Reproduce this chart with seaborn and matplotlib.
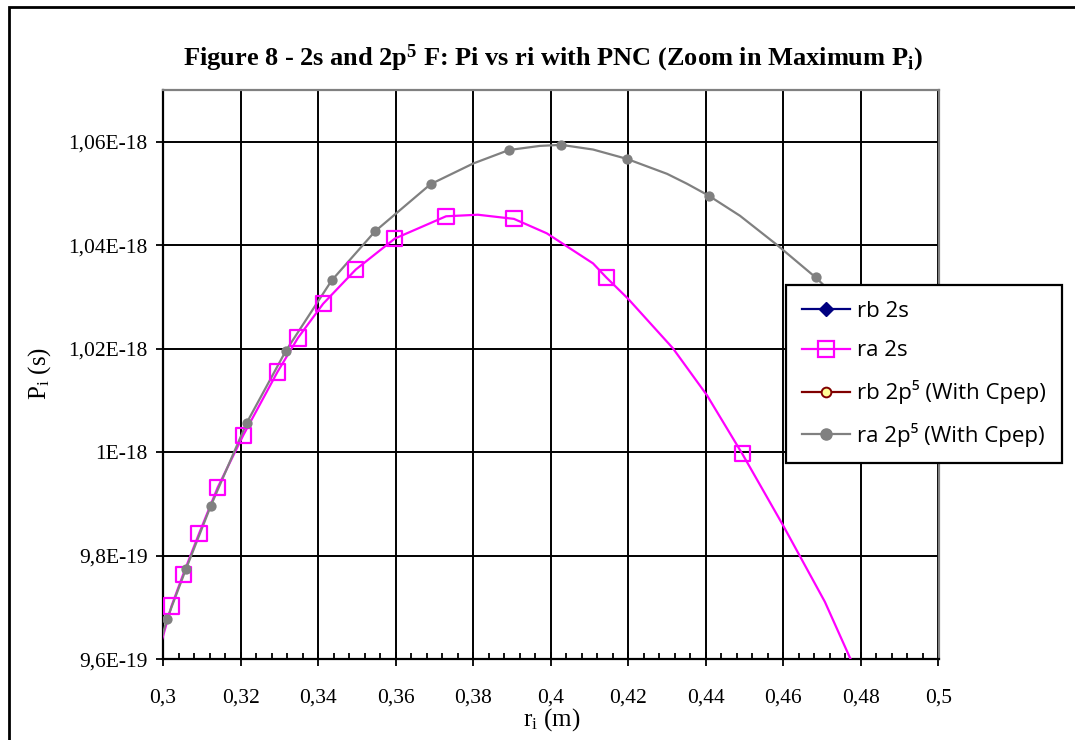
import numpy as np
import matplotlib
matplotlib.use('Agg')
import matplotlib.pyplot as plt
import seaborn as sns
from matplotlib.patches import Rectangle

# ra 2s (magenta squares) - marker points, P in units of 1E-18 s
ra2s_r = [0.3022, 0.3052, 0.3093, 0.3141, 0.3207, 0.3295, 0.3348, 0.3413,
          0.3497, 0.3598, 0.3730, 0.3905, 0.4143, 0.4494]
ra2s_p = [0.9703, 0.9764, 0.9843, 0.9932, 1.0033, 1.0155, 1.0221, 1.0287,
          1.0353, 1.0413, 1.0456, 1.0451, 1.0338, 0.9997]
# ra 2s - the drawn curve (markers plus points)
ra2s_curve_r = [0.2979, 0.3022, 0.3052, 0.3093, 0.3141, 0.3207, 0.3295, 0.3348,
                0.3413, 0.3497, 0.3598, 0.3730, 0.3812, 0.3905, 0.3990, 0.4109,
                0.4143, 0.4199, 0.4315, 0.4403, 0.4494, 0.4599, 0.4707, 0.4780]
ra2s_curve_p = [0.9589, 0.9703, 0.9764, 0.9843, 0.9932, 1.0033, 1.0155, 1.0221,
                1.0287, 1.0353, 1.0413, 1.0456, 1.0459, 1.0451, 1.0423, 1.0365,
                1.0338, 1.0297, 1.0201, 1.0110, 0.9997, 0.9859, 0.9711, 0.9589]

# ra 2p5 (With Cpep) (grey dots)
ra2p5_r = [0.3010, 0.3059, 0.3123, 0.3216, 0.3316, 0.3435, 0.3547, 0.3690,
           0.3892, 0.4027, 0.4196, 0.4407, 0.4683]
ra2p5_p = [0.9677, 0.9774, 0.9896, 1.0057, 1.0195, 1.0332, 1.0427, 1.0518,
           1.0584, 1.0594, 1.0567, 1.0496, 1.0338]
ra2p5_curve_r = [0.2979, 0.3010, 0.3059, 0.3123, 0.3216, 0.3316, 0.3435, 0.3547,
                 0.3690, 0.3800, 0.3892, 0.3972, 0.4027, 0.4109, 0.4196, 0.4300,
                 0.4351, 0.4407, 0.4488, 0.4583, 0.4683, 0.4798, 0.5000]
ra2p5_curve_p = [0.9593, 0.9677, 0.9774, 0.9896, 1.0057, 1.0195, 1.0332, 1.0427,
                 1.0518, 1.0558, 1.0584, 1.0592, 1.0594, 1.0585, 1.0567, 1.0538,
                 1.0519, 1.0496, 1.0457, 1.0401, 1.0338, 1.0255, 1.0071]

# rb series fall outside the zoomed window
rb2s_r, rb2s_p = [], []
rb2p5_r, rb2p5_p = [], []

x_ticks = [0.30, 0.32, 0.34, 0.36, 0.38, 0.40, 0.42, 0.44, 0.46, 0.48, 0.50]
x_tick_labels = ['0,3', '0,32', '0,34', '0,36', '0,38', '0,4', '0,42', '0,44',
                 '0,46', '0,48', '0,5']
y_ticks = [0.96e-18, 0.98e-18, 1.00e-18, 1.02e-18, 1.04e-18, 1.06e-18]
y_tick_labels = ['9,6E-19', '9,8E-19', '1E-18', '1,02E-18', '1,04E-18', '1,06E-18']

E18 = 1e-18
serif = 'Liberation Serif'
plt.rcParams['mathtext.fontset'] = 'custom'
plt.rcParams['mathtext.rm'] = 'Liberation Serif'
plt.rcParams['mathtext.bf'] = 'Liberation Serif:bold'
plt.rcParams['mathtext.it'] = 'Liberation Serif:italic'

fig = plt.figure(figsize=(10.75, 7.4), dpi=100)
ax = fig.add_axes([163 / 1075, 1 - 659.3 / 740, 775.5 / 1075, 569.3 / 740])

sns.lineplot(x=ra2s_curve_r, y=np.array(ra2s_curve_p) * E18, sort=False,
             color='#FF00FF', lw=1.6, ax=ax, zorder=3)
sns.scatterplot(x=ra2s_r, y=np.array(ra2s_p) * E18, marker='s', s=120,
                facecolor='none', edgecolor='#FF00FF', linewidth=1.6, ax=ax, zorder=4)
sns.lineplot(x=ra2p5_curve_r, y=np.array(ra2p5_curve_p) * E18, sort=False,
             color='#808080', lw=1.6, ax=ax, zorder=3)
sns.scatterplot(x=ra2p5_r, y=np.array(ra2p5_p) * E18, marker='o', s=55,
                color='#808080', edgecolor='#808080', linewidth=0, ax=ax, zorder=4)

h1, = ax.plot(rb2s_r, rb2s_p, color='#000080', marker='D', ms=7, lw=1.6)
h2, = ax.plot([], [], color='#FF00FF', marker='s', ms=11, mfc='none', mew=1.6, lw=1.6)
h3, = ax.plot(rb2p5_r, rb2p5_p, color='#800000', marker='o', ms=7, mfc='#FFFF99', mew=1.4, lw=1.6)
h4, = ax.plot([], [], color='#808080', marker='o', ms=8, lw=1.6)

ax.set_xlim(0.3, 0.5)
ax.set_ylim(0.96e-18, 1.07e-18)
ax.set_xticks(x_ticks)
ax.set_xticklabels(x_tick_labels, fontfamily=serif, fontsize=15.5)
ax.set_xticks(np.arange(0.3, 0.5001, 0.004), minor=True)
ax.set_yticks(y_ticks)
ax.set_yticklabels(y_tick_labels, fontfamily=serif, fontsize=15.5)
ax.tick_params(axis='x', which='major', direction='inout', length=10, width=1.3, pad=16)
ax.tick_params(axis='x', which='minor', direction='in', length=4.5, width=1.3)
ax.tick_params(axis='y', which='major', direction='out', length=5, width=1.3, pad=6)
ax.grid(True, which='major', color='black', lw=1.4)
ax.set_axisbelow(True)
for s in ['left', 'bottom']:
    ax.spines[s].set_color('black')
    ax.spines[s].set_linewidth(1.6)
for s in ['top', 'right']:
    ax.spines[s].set_color('#808080')
    ax.spines[s].set_linewidth(1.6)

ax.set_xlabel(r'r$_\mathrm{i}$ (m)', fontfamily=serif, fontsize=18)
ax.set_ylabel(r'P$_\mathrm{i}$ (s)', fontfamily=serif, fontsize=18)
ax.xaxis.set_label_coords(0.5016, -0.083)
ax.yaxis.set_label_coords(-0.142, 0.503)

fig.text(553 / 1075, 1 - 58 / 740,
         r'Figure 8 - 2s and 2p$^{\mathbf{5}}$ F: Pi vs ri with PNC (Zoom in Maximum P$_{\mathbf{i}}$)',
         ha='center', va='center', fontfamily=serif, fontweight='bold', fontsize=19)

leg = fig.legend([h1, h2, h3, h4],
                 ['rb 2s', 'ra 2s', 'rb 2p\u2075 (With Cpep)', 'ra 2p\u2075 (With Cpep)'],
                 loc='upper left', bbox_to_anchor=(786 / 1075, 1 - 285 / 740),
                 prop={'family': ['Open Sans', 'DejaVu Sans'], 'size': 16},
                 frameon=True, fancybox=False, edgecolor='black', framealpha=1,
                 handlelength=2.2, labelspacing=0.85, borderpad=0.7, handletextpad=0.3,
                 borderaxespad=0)
leg.get_frame().set_linewidth(1.6)

fig.patches.append(Rectangle((9 / 1075, -0.1), 1.2, 0.1 + 1 - 7 / 740,
                             transform=fig.transFigure, fill=False,
                             edgecolor='black', lw=2))

fig.savefig('out.png', dpi=100)
